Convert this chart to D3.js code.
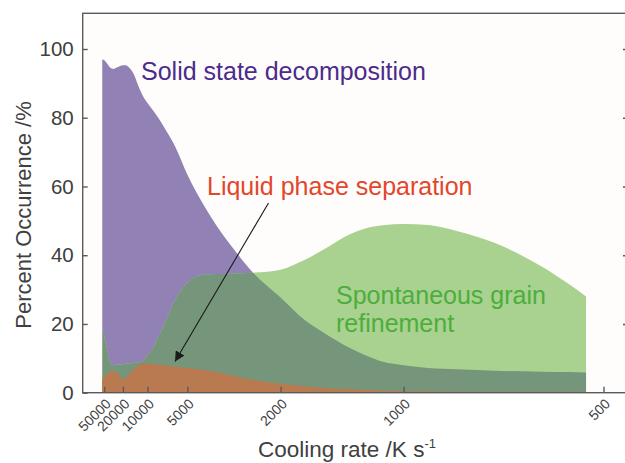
<!DOCTYPE html>
<html>
<head>
<meta charset="utf-8">
<script src="https://cdn.jsdelivr.net/npm/d3@7"></script>
<style>
  html, body { margin: 0; padding: 0; background: #ffffff; }
  svg { display: block; font-family: "Liberation Sans", Arial, sans-serif; }
</style>
</head>
<body>
<svg id="chart" width="625" height="463"></svg>
<script>
// Cooling rates (K/s) at which the occurrence curves are sampled
const rates = [58000, 50000, 45000, 40000, 35000, 30000, 25000, 20000, 18000, 17000,
  16000, 14000, 13000, 12000, 11000, 10000, 9000, 8000, 7000, 6000,
  5000, 4000, 3500, 3000, 2500, 2000, 1700, 1500, 1300, 1200,
  1100, 1000, 900, 800, 700, 600, 550, 525];

// Percent occurrence of each mechanism
const solidState = [97, 96.7, 96.2, 95.5, 94.6, 94.2, 94.7, 95.3, 95.3, 95.0,
  94.5, 92.5, 90.5, 88.2, 86.1, 84.3, 82.4, 80, 76.5, 71.8,
  63.5, 54, 48.5, 42.5, 35.2, 27.7, 21.2, 17.3, 13, 10.9,
  9, 8, 7.2, 6.8, 6.4, 6.1, 6.0, 5.9];

const grainRefinement = [18, 16.5, 14.3, 11.5, 8.8, 8, 8.1, 8.3, 8.4, 8.5,
  8.5, 8.7, 8.8, 8.9, 9.4, 10.9, 12.6, 16.2, 20.8, 26.8,
  32, 34.4, 34.5, 34.6, 34.9, 35.8, 38.6, 41.8, 46.1, 47.8,
  48.7, 49.1, 48.8, 47, 43.6, 36.8, 31.4, 28];

const liquidPhase = [3.8, 4.5, 5.1, 5.7, 6.1, 6.4, 5.7, 4.0, 4.4, 4.8,
  5.5, 6.8, 7.6, 8.1, 8.4, 8.5, 8.3, 8.1, 7.9, 7.6,
  7.2, 6.6, 6.0, 5.0, 3.8, 2.6, 1.9, 1.4, 1.0, 0.8,
  0.6, 0.5, 0.4, 0.3, 0.3, 0.3, 0.3, 0.3];

// Axis ticks
const xTicks = [50000, 20000, 10000, 5000, 2000, 1000, 500];
const yTicks = [0, 20, 40, 60, 80, 100];

const svg = d3.select("#chart");

const frame = { left: 82.7, right: 626, top: 13.3, bottom: 392.7 };

// Cooling rate axis: power scale in the rate
const x = d3.scalePow().exponent(-0.7)
  .domain([50000, 500])
  .range([104.3, 603.5]);

const y = d3.scaleLinear()
  .domain([0, 100])
  .range([frame.bottom, 49]);

// plot background
svg.append("rect")
  .attr("x", frame.left).attr("y", frame.top)
  .attr("width", frame.right - frame.left)
  .attr("height", frame.bottom - frame.top)
  .attr("fill", "#fefdfb");

const rows = rates.map((r, i) => ({
  r, solid: solidState[i], grain: grainRefinement[i], liquid: liquidPhase[i]
}));

const areaOf = key => d3.area()
  .x(d => x(d.r))
  .y0(y(0))
  .y1(d => y(d[key]))
  .curve(d3.curveMonotoneX);

const colors = {
  solid: "#9181b5",
  grain: "#a9d18f",
  overlap: "#76967c",
  liquid: "#b97a50"
};

// clip region shaped by the solid-state area, used for the overlap tint
svg.append("defs").append("clipPath").attr("id", "solidClip")
  .append("path").datum(rows).attr("d", areaOf("solid"));

svg.append("path").datum(rows)
  .attr("d", areaOf("solid"))
  .attr("fill", colors.solid);

svg.append("path").datum(rows)
  .attr("d", areaOf("grain"))
  .attr("fill", colors.grain);

svg.append("path").datum(rows)
  .attr("d", areaOf("grain"))
  .attr("clip-path", "url(#solidClip)")
  .attr("fill", colors.overlap);

svg.append("path").datum(rows)
  .attr("d", areaOf("liquid"))
  .attr("fill", colors.liquid);

// frame
const axisColor = "#5a5a5a";
svg.append("rect")
  .attr("x", frame.left).attr("y", frame.top)
  .attr("width", frame.right - frame.left)
  .attr("height", frame.bottom - frame.top)
  .attr("fill", "none")
  .attr("stroke", axisColor)
  .attr("stroke-width", 1.4);

// y axis (left)
const yAxis = svg.append("g")
  .attr("transform", `translate(${frame.left},0)`)
  .call(d3.axisLeft(y).tickValues(yTicks).tickSize(-5).tickPadding(9));
yAxis.select(".domain").remove();
yAxis.selectAll(".tick line").attr("stroke", axisColor).attr("stroke-width", 1.4);
yAxis.selectAll(".tick text")
  .attr("fill", "#404040")
  .style("font-size", "20.5px")
  .style("font-family", "Liberation Sans, Arial, sans-serif");

// y axis (right, ticks only)
const yAxisR = svg.append("g")
  .attr("transform", `translate(${frame.right},0)`)
  .call(d3.axisRight(y).tickValues(yTicks.filter(v => v > 0)).tickSize(-3).tickFormat(""));
yAxisR.select(".domain").remove();
yAxisR.selectAll(".tick line").attr("stroke", axisColor).attr("stroke-width", 1.4);

// x axis
const xAxis = svg.append("g")
  .attr("transform", `translate(0,${frame.bottom})`)
  .call(d3.axisBottom(x).tickValues(xTicks).tickSize(-6).tickFormat(d3.format("d")));
xAxis.select(".domain").remove();
xAxis.selectAll(".tick line").attr("stroke", axisColor).attr("stroke-width", 1.4);
xAxis.selectAll(".tick text")
  .attr("fill", "#404040")
  .attr("text-anchor", "end")
  .attr("x", 0).attr("y", 0).attr("dy", null)
  .attr("transform", "translate(7,12) rotate(-45)")
  .style("font-size", "14px")
  .style("font-family", "Liberation Sans, Arial, sans-serif");

// axis titles
svg.append("text")
  .attr("x", 347).attr("y", 457)
  .attr("text-anchor", "middle")
  .attr("fill", "#404040")
  .style("font-size", "22.5px")
  .text("Cooling rate /K s")
  .append("tspan")
  .attr("dy", -9)
  .style("font-size", "13px")
  .text("-1");

svg.append("text")
  .attr("transform", "translate(31,215) rotate(-90)")
  .attr("text-anchor", "middle")
  .attr("fill", "#404040")
  .style("font-size", "22px")
  .text("Percent Occurrence /%");

// series labels
svg.append("text")
  .attr("x", 141).attr("y", 79.5)
  .attr("fill", "#4b2b8c")
  .style("font-size", "25px")
  .text("Solid state decomposition");

svg.append("text")
  .attr("x", 207).attr("y", 195)
  .attr("fill", "#e3462b")
  .style("font-size", "25px")
  .text("Liquid phase separation");

const grainLabel = svg.append("text")
  .attr("fill", "#4cae3d")
  .style("font-size", "25px");
grainLabel.append("tspan").attr("x", 336).attr("y", 304).text("Spontaneous grain");
grainLabel.append("tspan").attr("x", 336).attr("y", 332).text("refinement");

// arrow pointing to the liquid phase separation area
svg.append("defs").append("marker")
  .attr("id", "arrowHead")
  .attr("viewBox", "0 0 10 10")
  .attr("refX", 10).attr("refY", 5)
  .attr("markerWidth", 10).attr("markerHeight", 10)
  .attr("markerUnits", "userSpaceOnUse")
  .attr("orient", "auto")
  .append("path")
  .attr("d", "M0,0 L10,5 L0,10 Z")
  .attr("fill", "#1a1a1a");

svg.append("line")
  .attr("x1", 268.5).attr("y1", 203)
  .attr("x2", 175).attr("y2", 361.5)
  .attr("stroke", "#1a1a1a")
  .attr("stroke-width", 1.1)
  .attr("marker-end", "url(#arrowHead)");
</script>
</body>
</html>
